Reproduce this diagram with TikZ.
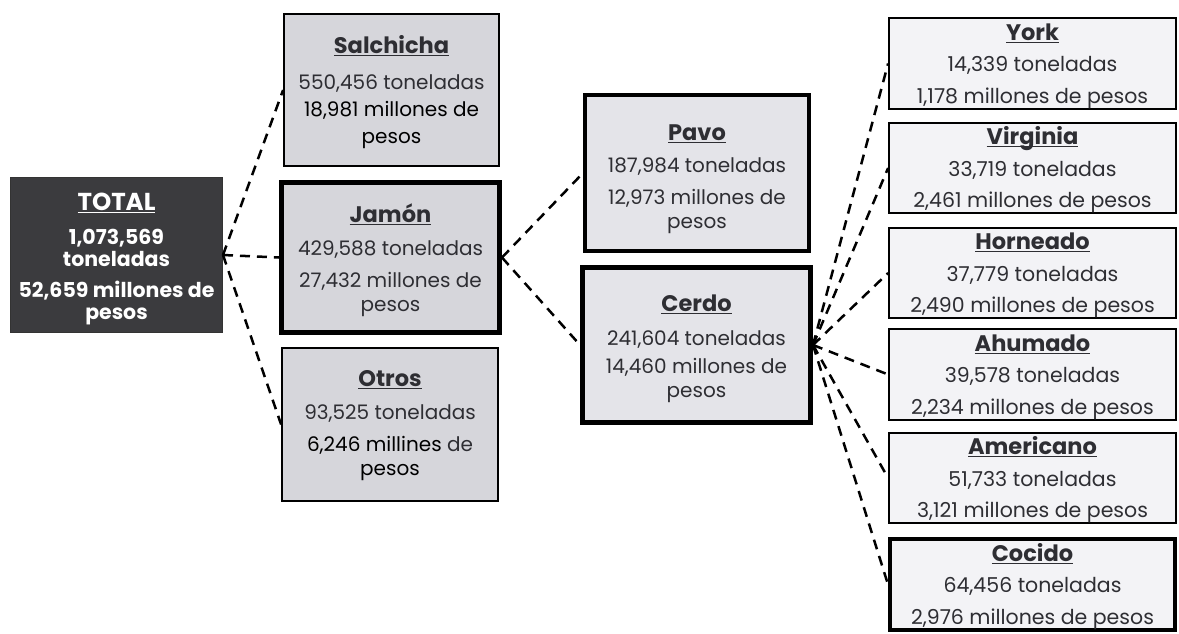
\documentclass[tikz,border=0pt]{standalone}
\usepackage{fontspec}
\setmainfont{Poppins}
\newcommand\ttl[2][16pt]{{\fontsize{22.5}{24}\selectfont\bfseries\underline{\smash{#2}}\rule{0pt}{#1}}}
\definecolor{txt}{HTML}{2E2E33}
\definecolor{dark}{HTML}{3B3B3E}
\definecolor{midfill}{HTML}{D6D6DB}
\definecolor{pvfill}{HTML}{E4E4E9}
\definecolor{ltfill}{HTML}{F3F3F6}
\tikzset{
  box/.style={draw=black, inner sep=0pt, align=center, text=txt,
    font=\fontsize{20}{24}\selectfont, line width=1.8pt},
  totbox/.style={box, fill=dark, draw=black!80, text=white, line width=1pt,
    font=\fontsize{20.5}{22}\selectfont\bfseries},
  midbox/.style={box, fill=midfill},
  pvbox/.style={box, fill=pvfill},
  rbox/.style={box, fill=ltfill, font=\fontsize{20.5}{31.5}\selectfont},
  thick5/.style={line width=5pt},
  thick4/.style={line width=4pt},
  conn/.style={draw=black, line width=2.5pt, dash pattern=on 10pt off 7pt}
}
\begin{document}
\begin{tikzpicture}[x=1pt,y=-1pt]
\useasboundingbox (0,0) rectangle (1179,633);
% TOTAL
\node[totbox, minimum width=212pt, minimum height=155pt] (tot) at (116.5,255)
  {{\fontsize{24.5}{26}\selectfont\underline{\smash{TOTAL}}\rule{0pt}{26pt}}\\[12pt]1,073,569\\toneladas\\[9pt]52,659 millones de\\pesos};
% second column
\node[midbox, minimum width=215pt, minimum height=152pt] (sal) at (391.5,90)
  {\ttl[22pt]{Salchicha}\\[12pt]550,456 toneladas\\[3pt]\textcolor{black}{18,981 millones de}\\[3pt]\textcolor{black}{pesos}};
\node[midbox, thick5, minimum width=218pt, minimum height=150pt] (jam) at (390.5,257.5)
  {\ttl[24pt]{Jamón}\\[9pt]429,588 toneladas\\[8pt]27,432 millones de\\pesos};
\node[midbox, minimum width=216pt, minimum height=153pt] (otr) at (390,424.5)
  {\ttl[19pt]{Otros}\\[9pt]93,525 toneladas\\[8pt]\textcolor{black}{6,246 millines} de\\\textcolor{black}{pesos}};
% third column
\node[pvbox, thick4, minimum width=224pt, minimum height=156pt] (pav) at (697,173)
  {\ttl[28pt]{Pavo}\\[8pt]187,984 toneladas\\[8pt]12,973 millones de\\pesos};
\node[pvbox, thick5, minimum width=228pt, minimum height=155pt] (cer) at (696.5,345)
  {\ttl[24pt]{Cerdo}\\[10pt]241,604 toneladas\\[4pt]14,460 millones de\\pesos};
% right column
\node[rbox, minimum width=287pt, minimum height=89pt] (yor) at (1032.5,63.5)
  {\ttl[22pt]{York}\\14,339 toneladas\\1,178 millones de pesos};
\node[rbox, minimum width=287pt, minimum height=88pt] (vir) at (1032.5,168)
  {\ttl[22pt]{Virginia}\\33,719 toneladas\\2,461 millones de pesos};
\node[rbox, minimum width=287pt, minimum height=88pt] (hor) at (1032.5,273)
  {\ttl[22pt]{Horneado}\\37,779 toneladas\\2,490 millones de pesos};
\node[rbox, minimum width=287pt, minimum height=87pt] (ahu) at (1032.5,374.5)
  {\ttl[22pt]{Ahumado}\\39,578 toneladas\\2,234 millones de pesos};
\node[rbox, minimum width=287pt, minimum height=88pt] (ame) at (1032.5,478)
  {\ttl[22pt]{Americano}\\51,733 toneladas\\3,121 millones de pesos};
\node[rbox, thick4, minimum width=285pt, minimum height=91pt] (coc) at (1032.5,584.5)
  {\ttl[22pt]{Cocido}\\64,456 toneladas\\2,976 millones de pesos};
% connectors
\draw[conn] (tot.east) -- (sal.west);
\draw[conn] (tot.east) -- (jam.west);
\draw[conn] (tot.east) -- (otr.west);
\draw[conn] (jam.east) -- (pav.west);
\draw[conn] (jam.east) -- (cer.west);
\foreach \t in {yor,vir,hor,ahu,ame,coc}
  \draw[conn] (cer.east) -- (\t.west);
\end{tikzpicture}
\end{document}
